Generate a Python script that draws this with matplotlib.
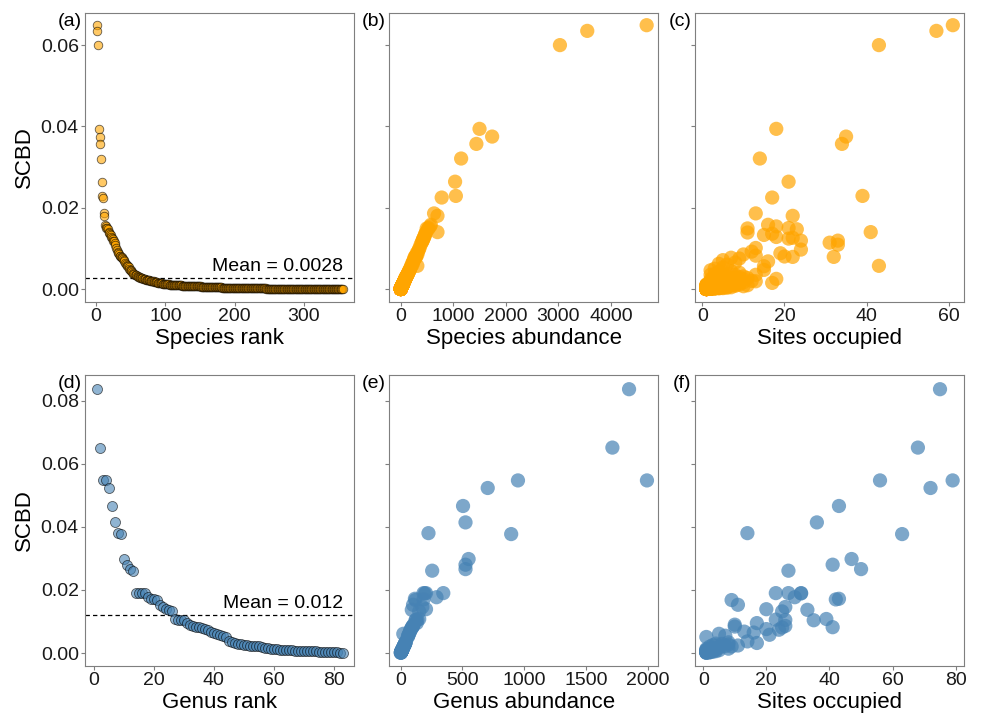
"""
SCBD of species and genera against rank, abundance and occupied sites.
Saves to out.png
"""

import matplotlib
matplotlib.use("Agg")
import matplotlib.pyplot as plt
import numpy as np

OUT_PATH = "out.png"

plt.rcParams["font.family"] = ["Liberation Sans", "DejaVu Sans"]

# ---------------------------------------------------------------------------
# Species, ordered by SCBD rank (SCBD given in units of 1e-4)
# ---------------------------------------------------------------------------
SP_SCBD_E4 = [
    # 1-12
    649, 635, 600, 394, 375, 357, 321, 264, 229, 225, 186, 180,
    # 13-30
    158, 154, 150, 149, 147, 140, 139, 136, 133, 128, 126, 124, 119, 119, 114, 109, 101, 97,
    # 31-60
    92, 88, 85, 82, 80, 79, 79, 77, 75, 71, 68, 65, 62, 60, 57, 56, 53, 50, 47, 46,
    44, 42, 40, 38, 37, 35, 35, 34, 33, 31,
    # 61-100
    30, 29, 29, 28, 27, 27, 26, 25, 25, 24, 24, 23, 23, 22, 22, 21, 21, 20, 20, 19.5,
    19, 19, 18.5, 18, 17.5, 17, 17, 16.5, 16, 15.5, 15, 15, 14.5, 14, 14, 13.5, 13, 13, 12.5, 12,
    # 101-150
    11.8, 11.6, 11.5, 11.3, 11.2, 11.0, 10.8, 10.7, 10.5, 10.4, 10.2, 10.1, 10.0, 9.8, 9.7,
    9.6, 9.4, 9.3, 9.2, 9.0, 8.9, 8.8, 8.7, 8.6, 8.5, 8.4, 8.3, 8.2, 8.1, 8.0,
    7.9, 7.8, 7.7, 7.6, 7.5, 7.4, 7.4, 7.3, 7.2, 7.1, 7.0, 6.9, 6.9, 6.8, 6.7,
    6.6, 6.6, 6.5, 6.4, 6.3,
    # 151-200
    6.2, 6.1, 6.0, 5.9, 5.8, 5.7, 5.6, 5.6, 5.5, 5.4, 5.3, 5.2, 5.1, 5.0, 5.0,
    4.9, 4.8, 4.7, 4.6, 4.6, 4.5, 4.4, 4.3, 4.3, 4.2, 4.1, 4.0, 4.0, 3.9, 3.8,
    3.8, 3.7, 3.6, 3.6, 3.5, 3.5, 3.4, 3.4, 3.3, 3.3, 3.2, 3.2, 3.2, 3.1, 3.1,
    3.1, 3.0, 3.0, 3.0, 3.0,
    # 201-356
    2.9, 2.8, 2.8, 2.7, 2.7, 2.6, 2.6, 2.5, 2.5, 2.4, 2.4, 2.3, 2.3, 2.3, 2.2, 2.2, 2.1, 2.1, 2.0, 2.0,
    2.0, 1.9, 1.9, 1.9, 1.8, 1.8, 1.8, 1.7, 1.7, 1.7, 1.6, 1.6, 1.6, 1.5, 1.5, 1.5, 1.5, 1.4, 1.4, 1.4,
    1.4, 1.3, 1.3, 1.3, 1.3, 1.2, 1.2, 1.2, 1.2, 1.1, 1.1, 1.1, 1.1, 1.0, 1.0, 1.0, 1.0, 1.0, 0.9, 0.9,
    0.9, 0.9, 0.9, 0.8, 0.8, 0.8, 0.8, 0.8, 0.7, 0.7, 0.7, 0.7, 0.7, 0.7, 0.6, 0.6, 0.6, 0.6, 0.6, 0.6,
    0.5, 0.5, 0.5, 0.5, 0.5, 0.5, 0.5, 0.4, 0.4, 0.4, 0.4, 0.4, 0.4, 0.4, 0.4, 0.3, 0.3, 0.3, 0.3, 0.3,
    0.3, 0.3, 0.3, 0.3, 0.3, 0.2, 0.2, 0.2, 0.2, 0.2, 0.2, 0.2, 0.2, 0.2, 0.2, 0.2, 0.2, 0.2, 0.2, 0.2,
    0.19, 0.18, 0.18, 0.17, 0.17, 0.16, 0.16, 0.15, 0.15, 0.15, 0.14, 0.14, 0.13, 0.13, 0.12, 0.12,
    0.12, 0.11, 0.11, 0.10,
    0.10, 0.10, 0.09, 0.09, 0.09, 0.08, 0.08, 0.08, 0.07, 0.07, 0.07, 0.06, 0.06, 0.06, 0.05, 0.05,
]

SP_ABUND = [
    4680, 3550, 3030, 1500, 1740, 1440, 1150, 1035, 1050, 780, 635, 700,
    575, 560, 530, 495, 520, 700, 480, 470, 460, 450, 440, 430, 420, 415, 400, 380, 360, 345,
    330, 305, 318, 290, 296, 270, 288, 262, 276, 248, 240, 232, 214, 226, 317, 198, 190, 182, 168, 172,
    158, 150, 146, 138, 134, 126, 130, 120, 118, 112,
    105, 98, 102, 96, 92, 95, 88, 86, 90, 82, 85, 80, 78, 76, 79, 72, 75, 70, 68, 71,
    66, 64, 65, 62, 60, 58, 61, 57, 55, 54, 52, 55, 50, 49, 51, 47, 45, 46, 44, 42,
    41, 40, 42, 39, 38, 40, 37, 36, 38, 35, 36, 34, 35, 33, 34, 32, 33, 31, 32, 30,
    31, 29, 30, 29, 28, 29, 27, 28, 27, 26, 27, 26, 25, 26, 25, 24, 25, 24, 23, 24,
    23, 22, 23, 22, 22, 21, 22, 21, 21, 20,
    20, 21, 19, 20, 19, 18, 19, 18, 18, 17, 18, 17, 16, 17, 16, 16, 15, 16, 15, 15,
    14, 15, 14, 14, 13, 14, 13, 13, 12, 13, 12, 12, 12, 11, 12, 11, 11, 11, 10, 11,
    10, 10, 11, 10, 10, 9, 10, 9, 10, 9,
    10, 9, 9, 9, 8, 9, 8, 8, 8, 8, 7, 8, 7, 7, 7, 7, 7, 6, 7, 6,
    6, 6, 6, 6, 6, 5, 6, 5, 5, 5, 5, 5, 5, 5, 4, 5, 4, 4, 4, 4,
    4, 4, 4, 4, 4, 4, 4, 4, 3, 3, 4, 3, 3, 3, 3, 3, 3, 3, 3, 3,
    3, 3, 3, 3, 2, 3, 2, 2, 2, 2, 2, 2, 2, 2, 2, 2, 2, 2, 2, 2,
    2, 2, 2, 2, 2, 1, 2, 1, 2, 1, 1, 2, 1, 1, 1, 1, 1, 1, 1, 1,
    1, 1, 1, 1, 1, 1, 1, 1, 1, 1, 1, 1, 1, 1, 1, 1, 1, 1, 1, 1,
    1, 1, 1, 1, 1, 1, 1, 1, 1, 1, 1, 1, 1, 1, 1, 1, 1, 1, 1, 1,
    1, 1, 1, 1, 1, 1, 1, 1, 1, 1, 1, 1, 1, 1, 1, 1,
]

SP_SITES = [
    61, 57, 43, 18, 35, 34, 14, 21, 39, 17, 13, 22,
    16, 18, 21, 11, 23, 41, 11, 17, 15, 18, 22, 21, 24, 33, 31, 33, 13, 24,
    12, 19, 10, 13, 20, 22, 32, 7, 9, 5, 16, 8, 4, 6, 43, 15, 5, 3, 15, 2,
    7, 4, 9, 6, 3, 13, 2, 8, 5, 10,
    6, 8, 9, 4, 11, 3, 7, 5, 18, 10, 2, 8, 6, 4, 9, 3, 5, 12, 2, 7,
    13, 4, 3, 8, 6, 2, 5, 10, 3, 4, 17, 2, 6, 3, 5, 9, 2, 4, 3, 6,
    4, 2, 7, 3, 1, 5, 9, 2, 3, 6, 1, 4, 8, 2, 5, 3, 1, 11, 2, 4,
    6, 3, 1, 2, 7, 4, 3, 5, 1, 2, 8, 3, 4, 2, 6, 1, 3, 5, 2, 4,
    1, 10, 3, 2, 6, 1, 4, 2, 3, 5,
    3, 1, 2, 5, 1, 4, 2, 1, 3, 6, 2, 1, 4, 2, 3, 1, 5, 2, 1, 3,
    2, 1, 7, 2, 3, 1, 4, 2, 1, 3, 2, 1, 5, 2, 1, 3, 1, 2, 4, 1,
    2, 3, 1, 2, 1, 6, 2, 1, 3, 1,
    2, 1, 3, 1, 2, 1, 4, 1, 2, 1, 3, 2, 1, 1, 2, 5, 1, 2, 1, 3,
    1, 2, 1, 1, 3, 1, 2, 1, 1, 2, 1, 4, 1, 2, 1, 1, 3, 1, 2, 1,
    1, 1, 2, 1, 1, 3, 1, 1, 2, 1, 1, 1, 2, 1, 1, 2, 1, 1, 1, 2,
    1, 1, 1, 2, 1, 1, 1, 1, 2, 1, 1, 1, 1, 1, 2, 1, 1, 1, 1, 1,
    1, 1, 2, 1, 1, 1, 1, 1, 1, 1, 1, 2, 1, 1, 1, 1, 1, 1, 1, 1,
    1, 1, 1, 1, 1, 1, 1, 1, 1, 1, 1, 1, 1, 1, 1, 1, 1, 1, 1, 1,
    1, 1, 1, 1, 1, 1, 1, 1, 1, 1, 1, 1, 1, 1, 1, 1, 1, 1, 1, 1,
    1, 1, 1, 1, 1, 1, 1, 1, 1, 1, 1, 1, 1, 1, 1, 1,
]
SP_MEAN = 0.0028

# ---------------------------------------------------------------------------
# Genera, ordered by SCBD rank
# ---------------------------------------------------------------------------
GEN_SCBD = [
    0.0836, 0.0651, 0.0547, 0.0547, 0.0523, 0.0466, 0.0414, 0.0380, 0.0377, 0.0298,
    0.0280, 0.0266, 0.0261, 0.0190, 0.0190, 0.0190, 0.0189, 0.0177, 0.0172, 0.0170,
    0.0168, 0.0153, 0.0146, 0.0139, 0.0137, 0.0132, 0.0108, 0.0106, 0.0105, 0.0104,
    0.0095, 0.0090, 0.0086, 0.0084, 0.0082, 0.0081, 0.0076, 0.0074, 0.0068, 0.0065,
    0.0061, 0.0058, 0.0055, 0.0051, 0.0037, 0.0034, 0.0032, 0.0030, 0.0029, 0.0027,
    0.0025, 0.0024, 0.0024, 0.0022, 0.0021, 0.0020, 0.0017, 0.0015, 0.0014, 0.0013,
    0.0012, 0.0011, 0.0010, 0.0010, 0.0009, 0.0009, 0.0008, 0.0008, 0.0007, 0.0007,
    0.0006, 0.0006, 0.0005, 0.0005, 0.0004, 0.0004, 0.0003, 0.0003, 0.0003, 0.0002,
    0.0002, 0.0001, 0.0001,
]
GEN_ABUND = [
    1850, 1715, 1995, 950, 705, 505, 525, 225, 895, 550,
    525, 525, 255, 185, 205, 345, 195, 290, 115, 185,
    120, 100, 175, 205, 90, 150, 150, 125, 135, 120,
    130, 105, 100, 95, 95, 90, 85, 80, 75, 72,
    21, 65, 60, 58, 42, 40, 38, 35, 35, 32,
    30, 28, 28, 25, 24, 22, 20, 18, 16, 15,
    14, 13, 12, 12, 11, 10, 9, 9, 8, 8,
    7, 7, 6, 5, 5, 4, 4, 3, 3, 2,
    2, 1, 1,
]
GEN_SITES = [
    75, 68, 79, 56, 72, 43, 36, 14, 63, 47,
    41, 50, 27, 23, 27, 31, 31, 29, 43, 42,
    9, 11, 26, 20, 33, 25, 39, 23, 26, 35,
    17, 10, 26, 10, 41, 25, 20, 24, 13, 16,
    5, 21, 7, 1, 14, 8, 17, 4, 6, 8,
    3, 11, 4, 7, 9, 2, 5, 3, 8, 1,
    2, 4, 1, 3, 2, 5, 1, 2, 3, 1,
    2, 4, 1, 2, 1, 3, 1, 2, 1, 1,
    2, 1, 1,
]
GEN_MEAN = 0.012

ORANGE = "#FFA500"
BLUE   = "#4682B4"
FRAME  = "#7F7F7F"

sp_scbd  = np.array(SP_SCBD_E4) * 1e-4
sp_rank  = np.arange(1, len(sp_scbd) + 1)
gen_scbd = np.array(GEN_SCBD)
gen_rank = np.arange(1, len(gen_scbd) + 1)

# ---------------------------------------------------------------------------
fig = plt.figure(figsize=(9.83, 7.14), dpi=100)

LEFTS = [0.0865, 0.3957, 0.7070]
WIDTH = 0.274
ROWS  = [(0.5770, 0.4048), (0.0672, 0.4076)]

axes = [[fig.add_axes([l, b, WIDTH, h]) for l in LEFTS] for b, h in ROWS]


def style(ax, label, ylim, yticks, show_y):
    for sp in ax.spines.values():
        sp.set_color(FRAME)
        sp.set_linewidth(0.8)
    ax.tick_params(direction="out", length=3, width=0.8, color=FRAME,
                   labelsize=14, labelcolor="#1A1A1A", pad=1.5)
    ax.set_ylim(ylim)
    ax.set_yticks(yticks)
    if show_y:
        ax.set_yticklabels([f"{t:.2f}" for t in yticks])
        ax.set_ylabel("SCBD", fontsize=16, labelpad=4)
    else:
        ax.set_yticklabels([])
    ax.text(-0.012, 1.0, label, transform=ax.transAxes,
            ha="right", va="top", fontsize=14)


def mean_line(ax, value):
    ax.axhline(value, color="black", lw=0.9, ls=(0, (3.5, 2.5)), zorder=1)
    ax.annotate(f"Mean = {value}", xy=(1, value),
                xycoords=("axes fraction", "data"),
                xytext=(-8, 2), textcoords="offset points",
                ha="right", va="bottom", fontsize=14)


SP_YLIM  = (-0.0032, 0.0679)
SP_YT    = [0.00, 0.02, 0.04, 0.06]
GEN_YLIM = (-0.0041, 0.0881)
GEN_YT   = [0.00, 0.02, 0.04, 0.06, 0.08]

# ---------------------------------------------------------------------------
# Top row: species
# ---------------------------------------------------------------------------
ax = axes[0][0]
ax.scatter(sp_rank, sp_scbd, s=38, c=ORANGE, alpha=0.6,
           edgecolors="black", linewidths=0.6, zorder=2)
mean_line(ax, SP_MEAN)
ax.set_xlim(-16, 373)
ax.set_xticks([0, 100, 200, 300])
ax.set_xlabel("Species rank", fontsize=16, labelpad=2)
style(ax, "(a)", SP_YLIM, SP_YT, True)

ax = axes[0][1]
ax.scatter(SP_ABUND, sp_scbd, s=105, c=ORANGE, alpha=0.7, edgecolors="none")
ax.set_xlim(-223, 4902)
ax.set_xticks([0, 1000, 2000, 3000, 4000])
ax.set_xlabel("Species abundance", fontsize=16, labelpad=2)
style(ax, "(b)", SP_YLIM, SP_YT, False)

ax = axes[0][2]
ax.scatter(SP_SITES, sp_scbd, s=105, c=ORANGE, alpha=0.7, edgecolors="none")
ax.set_xlim(-1.8, 63.8)
ax.set_xticks([0, 20, 40, 60])
ax.set_xlabel("Sites occupied", fontsize=16, labelpad=2)
style(ax, "(c)", SP_YLIM, SP_YT, False)

# ---------------------------------------------------------------------------
# Bottom row: genera
# ---------------------------------------------------------------------------
ax = axes[1][0]
ax.scatter(gen_rank, gen_scbd, s=52, c=BLUE, alpha=0.6,
           edgecolors="black", linewidths=0.6, zorder=2)
mean_line(ax, GEN_MEAN)
ax.set_xlim(-2.9, 86.8)
ax.set_xticks([0, 20, 40, 60, 80])
ax.set_xlabel("Genus rank", fontsize=16, labelpad=2)
style(ax, "(d)", GEN_YLIM, GEN_YT, True)

ax = axes[1][1]
ax.scatter(GEN_ABUND, gen_scbd, s=105, c=BLUE, alpha=0.7, edgecolors="none")
ax.set_xlim(-95, 2087)
ax.set_xticks([0, 500, 1000, 1500, 2000])
ax.set_xlabel("Genus abundance", fontsize=16, labelpad=2)
style(ax, "(e)", GEN_YLIM, GEN_YT, False)

ax = axes[1][2]
ax.scatter(GEN_SITES, gen_scbd, s=105, c=BLUE, alpha=0.7, edgecolors="none")
ax.set_xlim(-2.6, 82.7)
ax.set_xticks([0, 20, 40, 60, 80])
ax.set_xlabel("Sites occupied", fontsize=16, labelpad=2)
style(ax, "(f)", GEN_YLIM, GEN_YT, False)

fig.savefig(OUT_PATH, dpi=100, facecolor="white")
